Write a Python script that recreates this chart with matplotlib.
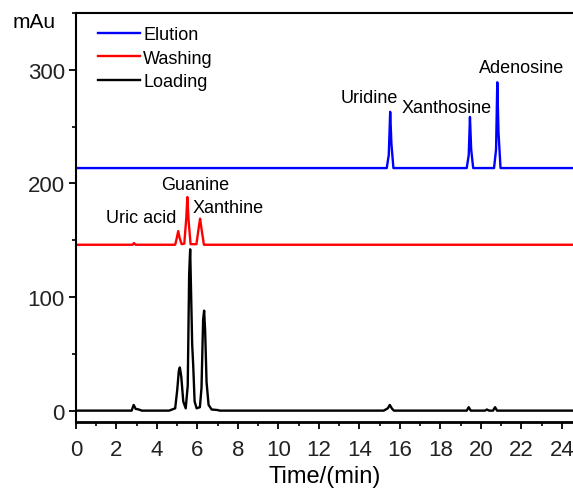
"""
## Draw HPLC chromatograms of loading, washing and elution fractions.
"""

## Import relevant modules and functions
import numpy as np
from matplotlib.figure import Figure
from matplotlib.ticker import MultipleLocator

## Loading fraction trace (time min, signal mAu).
load_time = [0.0, 2.75, 2.85, 2.95, 3.1, 3.25, 4.6, 4.9, 5.0, 5.08, 5.13,
             5.2, 5.3, 5.42, 5.52, 5.59, 5.64, 5.69, 5.74, 5.79, 5.86, 5.96,
             6.12, 6.2, 6.28, 6.33, 6.38, 6.45, 6.55, 6.7, 7.0, 7.1, 15.2,
             15.4, 15.5, 15.6, 15.7, 19.3, 19.4, 19.5, 20.2, 20.3, 20.4,
             20.6, 20.7, 20.8, 24.6]
load_mau  = [0.0, 0.0, 5.0, 1.5, 1.0, 0.0, 0.0, 2.0, 18.0, 35.0, 38.0,
             30.0, 8.0, 2.0, 22.0, 120.0, 142.0, 100.0, 58.0, 40.0, 8.0, 2.0,
             3.0, 20.0, 80.0, 88.0, 70.0, 25.0, 5.0, 1.0, 0.5, 0.0, 0.0,
             2.0, 5.0, 2.0, 0.0, 0.0, 3.0, 0.0, 0.0, 1.0, 0.0,
             0.0, 3.0, 0.0, 0.0]

## Washing fraction trace.
wash_time = [0.0, 2.8, 2.86, 2.95, 4.9, 4.98, 5.05, 5.12, 5.22, 5.35, 5.45,
             5.5, 5.56, 5.66, 5.95, 6.07, 6.13, 6.2, 6.32, 24.6]
wash_mau  = [146.0, 146.0, 147.5, 146.0, 146.0, 152.0, 158.0, 152.0, 146.5,
             147.0, 170.0, 188.0, 168.0, 146.5, 146.5, 162.0, 169.0, 160.0,
             146.0, 146.0]

## Elution fraction trace.
elut_time = [0.0, 15.35, 15.45, 15.52, 15.58, 15.68, 19.3, 19.4, 19.46,
             19.52, 19.62, 20.65, 20.75, 20.81, 20.87, 20.97, 24.6]
elut_mau  = [213.5, 213.5, 225.0, 263.0, 235.0, 213.5, 213.5, 225.0, 258.5,
             230.0, 213.5, 213.5, 230.0, 289.0, 245.0, 213.5, 213.5]

## Peak labels and their positions (time, mAu).
peak_name = ['Uric acid', 'Guanine', 'Xanthine',
             'Uridine', 'Xanthosine', 'Adenosine']
peak_time = [3.2, 5.88, 7.5, 14.5, 18.3, 22.0]
peak_mau  = [170.0, 199.0, 179.0, 276.0, 267.0, 302.0]

def main():

## Font set up, Arial like.
    fntsz = 16.0
    fntsa = 13.0

    fig = Figure(figsize=(5.73, 4.89), dpi=100)
    ax = fig.add_axes([0.1326, 0.135, 0.8674, 0.8364])

## Draw the three chromatograms, elution on top of the legend.
    ax.plot(elut_time, elut_mau, color='#0000ff', lw=1.7, label='Elution')
    ax.plot(wash_time, wash_mau, color='#ff0000', lw=1.7, label='Washing')
    ax.plot(load_time, load_mau, color='k', lw=1.7, label='Loading')

## Peak annotations.
    for nm, tx, ty in zip(peak_name, peak_time, peak_mau):
        ax.text(tx, ty, nm, ha='center', va='center', fontsize=fntsa,
                family='Liberation Sans', color='k')

## Axis ranges and ticks.
    ax.set_xlim(0.0, 24.55)
    ax.set_ylim(-10.0, 350.0)
    ax.xaxis.set_major_locator(MultipleLocator(2))
    ax.xaxis.set_minor_locator(MultipleLocator(1))
    ax.set_yticks([0, 100, 200, 300])
    ax.yaxis.set_minor_locator(MultipleLocator(50))
    ax.tick_params(which='major', direction='out', length=5, width=1.3,
                   labelsize=fntsz, pad=3)
    ax.tick_params(axis='x', which='major', pad=7)
    ax.tick_params(which='minor', direction='out', length=3, width=1.2)
    for lb in ax.get_xticklabels() + ax.get_yticklabels():
        lb.set_family('Liberation Sans')
        lb.set_color('#222222')

    ax.spines['right'].set_visible(False)
    ax.spines['top'].set_linewidth(1.5)
    ax.spines['left'].set_linewidth(1.5)
    ax.spines['bottom'].set_linewidth(2.0)

## X label placed by hand just above the figure bottom.
    ax.set_xlabel('Time/(min)', fontsize=17, family='Liberation Sans',
                  va='center')
    ax.xaxis.set_label_coords(0.5, -0.132)
    fig.text(0.022, 0.955, 'mAu', fontsize=15, family='Liberation Sans',
             ha='left', va='center')

## Legend without frame at upper left.
    leg = ax.legend(loc='upper left', bbox_to_anchor=(0.03, 0.985),
                    frameon=False, handlelength=2.3,
                    handletextpad=0.2, labelspacing=0.35, borderaxespad=0.0,
                    prop={'family': 'Liberation Sans', 'size': fntsa})

    fig.savefig('out.png', dpi=100, facecolor='w')

if __name__ == '__main__':
    main()
